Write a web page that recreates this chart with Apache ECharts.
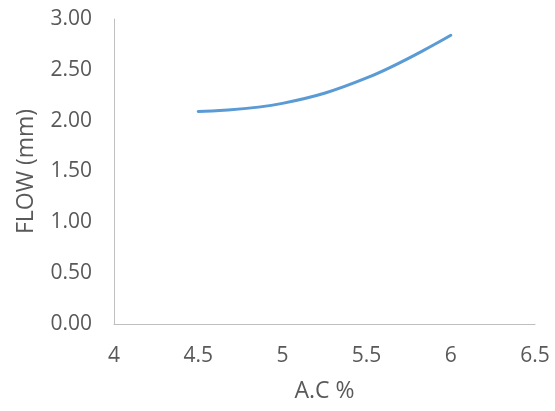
<!DOCTYPE html>
<html>
<head>
<meta charset="utf-8">
<script src="https://cdn.jsdelivr.net/npm/echarts@6/dist/echarts.min.js"></script>
<style>
  html, body { margin: 0; padding: 0; background: #fff; }
  #chart { width: 555px; height: 411px; }
</style>
</head>
<body>
<div id="chart"></div>
<script>
// Asphalt content (%) against Marshall flow (mm)
const acPercent = [4.5, 5, 5.5, 6];
const flowMm = [2.09, 2.17, 2.42, 2.84];
const xTicks = [4, 4.5, 5, 5.5, 6, 6.5];
const yTicks = [0, 0.5, 1, 1.5, 2, 2.5, 3];

const textColor = '#595959';
const axisColor = '#bfbfbf';
const fontFamily = '"Open Sans", "Liberation Sans", sans-serif';

const chart = echarts.init(document.getElementById('chart'), null, { renderer: 'canvas' });
chart.setOption({
  animation: false,
  grid: { left: 114, right: 20, top: 19, bottom: 87 },
  xAxis: {
    type: 'value',
    min: xTicks[0],
    max: xTicks[xTicks.length - 1],
    interval: 0.5,
    name: 'A.C %',
    nameLocation: 'middle',
    nameGap: 56,
    nameTextStyle: { color: textColor, fontSize: 23, fontFamily },
    axisLine: { show: true, lineStyle: { color: axisColor, width: 1 } },
    axisTick: { show: false },
    splitLine: { show: false },
    axisLabel: { color: textColor, fontSize: 21, fontFamily, margin: 22 }
  },
  yAxis: {
    type: 'value',
    min: yTicks[0],
    max: yTicks[yTicks.length - 1],
    interval: 0.5,
    name: 'FLOW (mm)',
    nameLocation: 'middle',
    nameGap: 76,
    nameTextStyle: { color: textColor, fontSize: 23, fontFamily },
    axisLine: { show: true, lineStyle: { color: axisColor, width: 1 } },
    axisTick: { show: false },
    splitLine: { show: false },
    axisLabel: {
      color: textColor, fontSize: 21, fontFamily, margin: 22,
      formatter: v => v.toFixed(2)
    }
  },
  series: [{
    type: 'line',
    data: acPercent.map((x, i) => [x, flowMm[i]]),
    smooth: 0.4,
    showSymbol: false,
    lineStyle: { color: '#5B9BD5', width: 3, cap: 'round' },
    itemStyle: { color: '#5B9BD5' }
  }]
});
</script>
</body>
</html>
